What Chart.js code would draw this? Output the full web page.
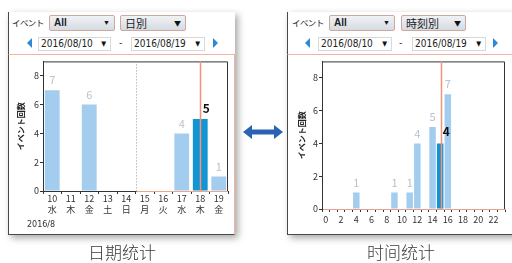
<!DOCTYPE html>
<html>
<head>
<meta charset="utf-8">
<script src="https://cdn.jsdelivr.net/npm/chart.js@4.4.0/dist/chart.umd.min.js"></script>
<style>
body { margin:0; width:512px; height:263px; background:#fff; position:relative; overflow:hidden;
       font-family:"Noto Sans CJK JP", sans-serif; color:#222; }
.abs { position:absolute; }
.card { position:absolute; top:12px; height:223px; background:#fff; box-sizing:border-box;
        border-left:1px solid #4a4a4a; border-bottom:1px solid #4a4a4a;
        box-shadow:3px 3px 7px rgba(0,0,0,0.35); }
.chartbox { position:absolute; top:54px; height:181px; box-sizing:border-box; border:1px solid #f3b4a0;
            border-left:1px solid #4a4a4a; border-bottom:1px solid #4a4a4a; }
.lbl { position:absolute; font-size:10px; line-height:12px; }
.ev { position:absolute; font-size:8.5px; line-height:12px; letter-spacing:-0.6px; }
.sel { position:absolute; height:16px; box-sizing:border-box; border:1px solid #c9a9a0; border-radius:2px;
       background:linear-gradient(#f0f2f5,#d6dbe2); font-size:10px; line-height:14px; padding-left:4px;
       font-family:"Liberation Sans", Arial, sans-serif; font-weight:bold; color:#222; }
.sel.jp { font-family:"Noto Sans CJK JP", sans-serif; font-weight:normal; font-size:11px; }
.date { position:absolute; height:14px; box-sizing:border-box; border:1px solid #d8d8d8; background:#fff;
        font-size:10px; line-height:12px; padding-left:2px; font-family:"DejaVu Sans Condensed", "DejaVu Sans", sans-serif; color:#222; }
.arr { position:absolute; right:4px; top:0; font-size:7px; color:#111; }
.tl { position:absolute; width:0; height:0; border-top:5px solid transparent; border-bottom:5px solid transparent; border-right:5px solid #2a8ad8; }
.tr { position:absolute; width:0; height:0; border-top:5px solid transparent; border-bottom:5px solid transparent; border-left:5px solid #2a8ad8; }
.cap { position:absolute; top:242px; font-family:"Noto Sans CJK SC", sans-serif; font-size:17px; line-height:20px;
       color:#3a3a3a; width:120px; text-align:center; font-weight:300; }
canvas { position:absolute; }
</style>
</head>
<body>

<!-- left card -->
<div class="card" style="left:8px;width:227px;"></div>
<div class="chartbox" style="left:8px;width:227px;"></div>
<div class="ev" style="left:12px;top:16px;">イベント</div>
<div class="sel" style="left:49px;top:15px;width:66px;">All<span class="arr">▼</span></div>
<div class="sel jp" style="left:120px;top:15px;width:66px;">日別<span class="arr">▼</span></div>
<div class="tl" style="left:27px;top:38px;"></div>
<div class="date" style="left:38px;top:37px;width:73px;">2016/08/10<span class="arr">▼</span></div>
<div class="lbl" style="left:119px;top:36px;">-</div>
<div class="date" style="left:131px;top:37px;width:74px;">2016/08/19<span class="arr">▼</span></div>
<div class="tr" style="left:213px;top:38px;"></div>
<canvas id="dayChart" width="225" height="179" style="left:9px;top:55px;"></canvas>
<div class="lbl" style="left:27px;top:219px;font-size:8px;font-family:'DejaVu Sans',sans-serif;color:#333;">2016/8</div>

<!-- right card -->
<div class="card" style="left:287px;width:240px;"></div>
<div class="chartbox" style="left:287px;width:240px;"></div>
<div class="ev" style="left:292px;top:16px;">イベント</div>
<div class="sel" style="left:329px;top:15px;width:66px;">All<span class="arr">▼</span></div>
<div class="sel jp" style="left:401px;top:15px;width:65px;">時刻別<span class="arr">▼</span></div>
<div class="tl" style="left:305px;top:38px;"></div>
<div class="date" style="left:318px;top:37px;width:74px;">2016/08/10<span class="arr">▼</span></div>
<div class="lbl" style="left:399px;top:36px;">-</div>
<div class="date" style="left:412px;top:37px;width:74px;">2016/08/19<span class="arr">▼</span></div>
<div class="tr" style="left:493px;top:38px;"></div>
<canvas id="hourChart" width="222" height="179" style="left:289px;top:55px;"></canvas>

<!-- arrow between -->
<svg class="abs" style="left:240px;top:122px;" width="46" height="20">
  <polygon points="3,10 12,3 12,7.5 34,7.5 34,3 43,10 34,17 34,12.5 12,12.5 12,17" fill="#2a62b4"/>
</svg>

<div class="cap" style="left:62px;">日期统计</div>
<div class="cap" style="left:341px;">时间统计</div>

<script>
var DAY_LABELS = ['10', '11', '12', '13', '14', '15', '16', '17', '18', '19'];
var WEEKDAY_LABELS = ['水', '木', '金', '土', '日', '月', '火', '水', '木', '金'];
var DAY_COUNTS = [7, 0, 6, 0, 0, 0, 0, 4, 5, 1];

var HOUR_LABELS = ['0', '1', '2', '3', '4', '5', '6', '7', '8', '9', '10', '11',
                   '12', '13', '14', '15', '16', '17', '18', '19', '20', '21', '22', '23'];
var HOUR_COUNTS = [0, 0, 0, 0, 1, 0, 0, 0, 0, 1, 0, 1, 4, 0, 5, 4, 7, 0, 0, 0, 0, 0, 0, 0];

var Y_TICKS = [0, 2, 4, 6, 8];
var Y_MAX = 9;

var SELECTED_DAY = 8;   // 18日
var SELECTED_HOUR = 15;
var NOW_DAY = 8;        // red line
var NOW_HOUR = 15.15;
var WEEK_SPLIT = 4.5;   // between 14(日) and 15(月)

var LIGHT = '#a2cdee';
var DARK = '#1495d3';
var FONT = '"Noto Sans CJK JP", sans-serif';

//draws frame, marker lines and the value labels
var overlay = {
    id: 'overlay',
    afterDatasetsDraw: function (chart, args, opts) {
        var ctx = chart.ctx;
        var a = chart.chartArea;
        var xs = chart.scales.x;
        var meta = chart.getDatasetMeta(0);
        var data = chart.data.datasets[0].data;
        ctx.save();

        ctx.strokeStyle = '#333';
        ctx.lineWidth = 1;
        ctx.beginPath();
        ctx.moveTo(a.left + 0.5, a.bottom);
        ctx.lineTo(a.left + 0.5, a.top + 0.5);
        ctx.lineTo(a.right - 0.5, a.top + 0.5);
        ctx.lineTo(a.right - 0.5, a.bottom);
        ctx.stroke();

        if (opts.split != null) {
            var sx = Math.round(xs.getPixelForValue(opts.split)) + 0.5;
            ctx.strokeStyle = '#999';
            ctx.setLineDash([1, 2]);
            ctx.beginPath();
            ctx.moveTo(sx, a.top);
            ctx.lineTo(sx, a.bottom);
            ctx.stroke();
            ctx.setLineDash([]);
            ctx.strokeStyle = '#f0a58e';
            ctx.beginPath();
            ctx.moveTo(sx, a.bottom + 0.5);
            ctx.lineTo(a.right, a.bottom + 0.5);
            ctx.stroke();
        }

        var nx = Math.round(xs.getPixelForValue(opts.now)) + 0.5;
        ctx.strokeStyle = '#f39378';
        ctx.lineWidth = 1.5;
        ctx.beginPath();
        ctx.moveTo(nx, a.top);
        ctx.lineTo(nx, a.bottom);
        ctx.stroke();

        ctx.textAlign = 'center';
        ctx.textBaseline = 'middle';
        meta.data.forEach(function (bar, i) {
            if (!data[i]) return;
            if (i === opts.selected) {
                ctx.fillStyle = '#111';
                ctx.font = 'bold 12px ' + FONT;
                ctx.fillText(String(data[i]), bar.x + opts.selOffset, bar.y - opts.selGap);
            } else {
                ctx.fillStyle = '#b8c3cf';
                ctx.font = '11px ' + FONT;
                ctx.fillText(String(data[i]), bar.x, bar.y - 10);
            }
        });
        ctx.restore();
    }
};

function makeChart(canvas, labels, values, selected, cfg) {
    var colors = values.map(function (v, i) {
        return i === selected ? DARK : LIGHT;
    });
    return new Chart(canvas, {
        type: 'bar',
        data: {
            labels: labels,
            datasets: [{
                data: values,
                backgroundColor: colors,
                borderWidth: 0,
                categoryPercentage: 1,
                barPercentage: cfg.barPct
            }]
        },
        plugins: [overlay],
        options: {
            responsive: false,
            animation: false,
            devicePixelRatio: 1,
            layout: { padding: { top: 6, right: cfg.padRight, left: 0, bottom: 0 } },
            plugins: {
                legend: { display: false },
                tooltip: { enabled: false },
                overlay: {
                    split: cfg.split,
                    now: cfg.now,
                    selected: selected,
                    selOffset: cfg.selOffset,
                    selGap: cfg.selGap
                }
            },
            scales: {
                x: {
                    offset: true,
                    grid: { drawOnChartArea: false, tickLength: 3, color: '#333', offset: true },
                    border: { color: cfg.axisColor },
                    ticks: {
                        color: '#333',
                        font: { family: FONT, size: 9, lineHeight: 1.25 },
                        padding: cfg.xPad,
                        maxRotation: 0,
                        autoSkip: false,
                        callback: cfg.xCallback
                    },
                    afterFit: function (s) { s.height = cfg.xHeight; }
                },
                y: {
                    min: 0,
                    max: Y_MAX,
                    grid: { drawOnChartArea: false, tickLength: 3, color: '#333' },
                    border: { color: '#333' },
                    ticks: {
                        color: '#333',
                        font: { family: FONT, size: 9 },
                        padding: 1,
                        stepSize: 2
                    },
                    afterBuildTicks: function (s) {
                        s.ticks = Y_TICKS.map(function (v) { return { value: v }; });
                    },
                    title: {
                        display: true,
                        text: 'イベント回数',
                        color: '#222',
                        font: { family: FONT, size: 8, weight: 'bold' },
                        padding: { top: cfg.titlePad, bottom: 0 }
                    },
                    afterFit: function (s) { s.width = cfg.yWidth; }
                }
            }
        }
    });
}

makeChart(document.getElementById('dayChart'),
    DAY_LABELS.map(function (d, i) { return [d, WEEKDAY_LABELS[i]]; }),
    DAY_COUNTS, SELECTED_DAY, {
        barPct: 0.8,
        padRight: 6,
        split: WEEK_SPLIT,
        now: NOW_DAY,
        selOffset: 6,
        selGap: 11,
        axisColor: '#333',
        xPad: -1,
        xHeight: 43,
        yWidth: 34,
        titlePad: 7,
        xCallback: function (v, i) { return this.getLabelForValue(v); }
    });

makeChart(document.getElementById('hourChart'), HOUR_LABELS, HOUR_COUNTS, SELECTED_HOUR, {
    barPct: 0.85,
    padRight: 6,
    split: null,
    now: NOW_HOUR,
    selOffset: 6,
    selGap: 12,
    axisColor: '#e9a08a',
    xPad: 2,
    xHeight: 25,
    yWidth: 33,
    titlePad: 8,
    xCallback: function (v, i) { return i % 2 === 0 ? this.getLabelForValue(v) : ''; }
});
</script>
</body>
</html>
